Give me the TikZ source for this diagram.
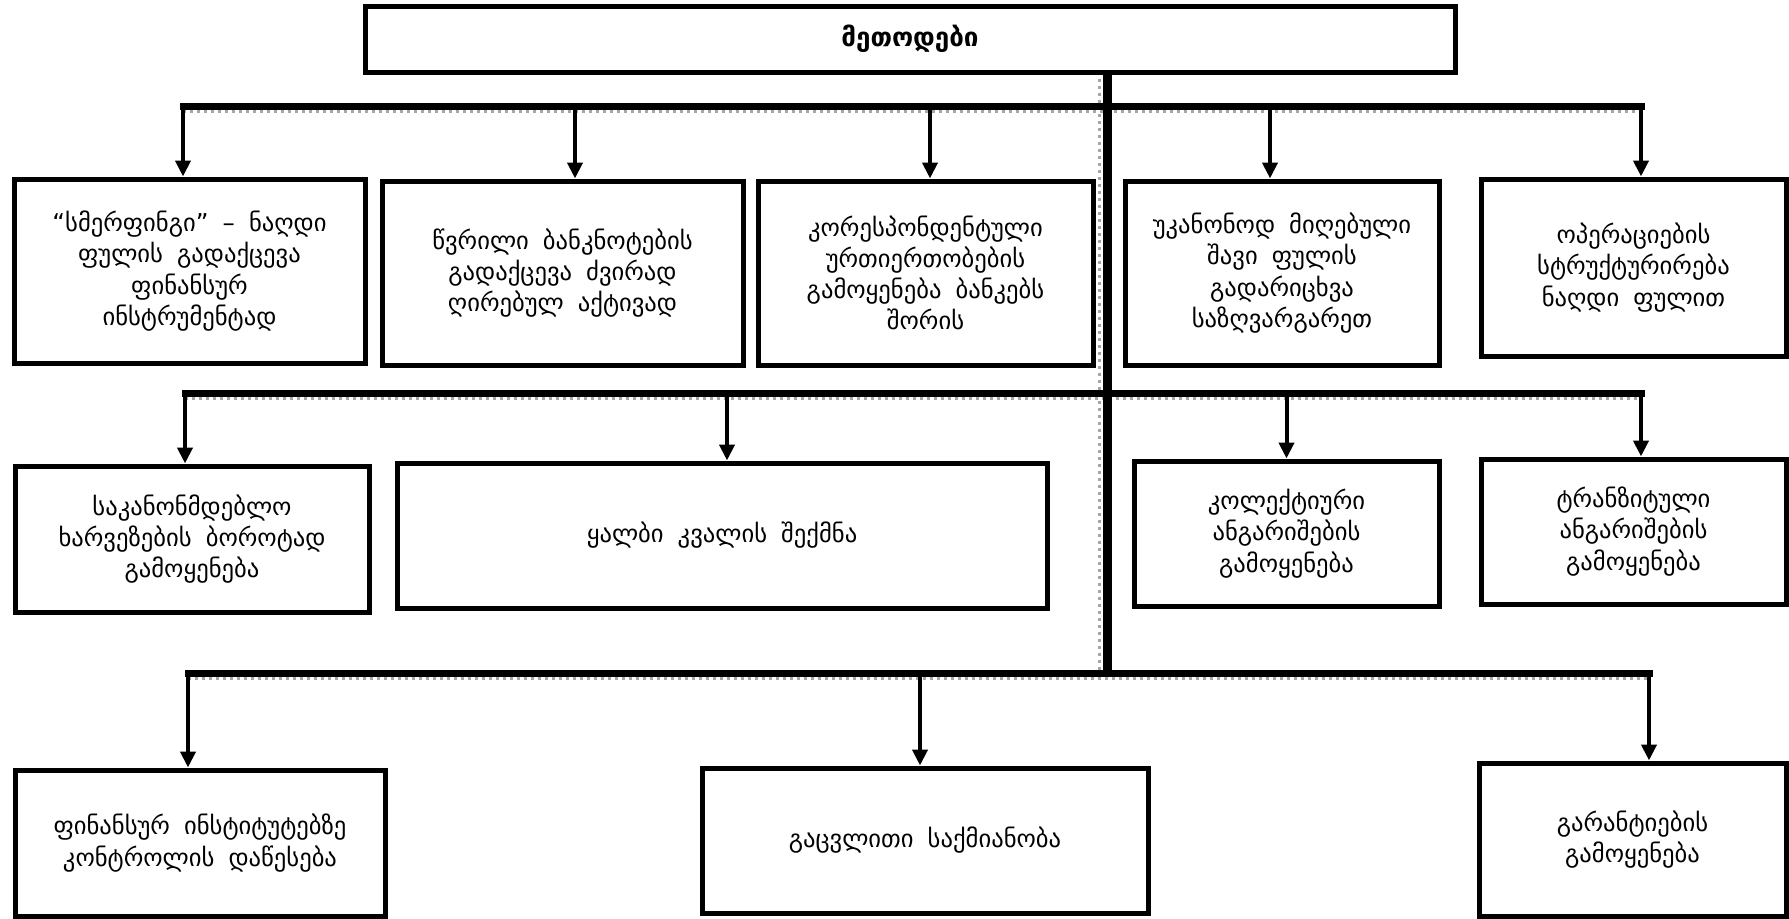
\documentclass[tikz,border=0pt]{standalone}
\usepackage{fontspec}
\setmainfont{DejaVu Sans}[WordSpace=1.8]
\usetikzlibrary{arrows.meta,calc,positioning}

\begin{document}
\begin{tikzpicture}[x=0.5pt,y=-0.5pt]
\tikzset{
    box/.style={
       draw, line width=2.5pt, fill=white,
       align=center, inner sep=0pt,
       font=\fontsize{12.3}{15.6}\selectfont
    },
    busline/.style={line width=3.5pt, line cap=rect},
    busshadow/.style={gray!70, line width=1.5pt, dotted},
    trunkline/.style={line width=4.5pt},
    arrowline/.style={line width=2pt, -{Triangle[length=8pt,width=7.5pt]}}
}
%
\useasboundingbox (0,0) rectangle (1789,918);

\node[box, minimum width=545pt, minimum height=33pt, font=\fontsize{13}{15}\selectfont\bfseries] (metodebi) at (910,39) {მეთოდები};

% first row
\node[box, minimum width=175.5pt, minimum height=92pt] (smurf) at (189.5,271)
   {“სმერფინგი” – ნაღდი\\ფულის გადაქცევა\\ფინანსურ\\ინსტრუმენტად};
\node[box, minimum width=180.5pt, minimum height=92pt] (banknot) at (562.5,273)
   {წვრილი ბანკნოტების\\გადაქცევა ძვირად\\ღირებულ აქტივად};
\node[box, minimum width=167.5pt, minimum height=92pt] (koresp) at (925.5,273)
   {კორესპონდენტული\\ურთიერთობების\\გამოყენება ბანკებს\\შორის};
\node[box, minimum width=157pt, minimum height=92pt] (shavi) at (1282,273)
   {უკანონოდ მიღებული\\შავი ფულის\\გადარიცხვა\\საზღვარგარეთ};
\node[box, minimum width=152.5pt, minimum height=88.5pt] (operac) at (1633.5,267.5)
   {ოპერაციების\\სტრუქტურირება\\ნაღდი ფულით};

% second row
\node[box, minimum width=177pt, minimum height=73pt] (kanon) at (192,539)
   {საკანონმდებლო\\ხარვეზების ბოროტად\\გამოყენება};
\node[box, minimum width=325pt, minimum height=72.5pt] (kvali) at (722,535.5)
   {ყალბი კვალის შექმნა};
\node[box, minimum width=152.5pt, minimum height=72.5pt] (kolekt) at (1286.5,533.5)
   {კოლექტიური\\ანგარიშების\\გამოყენება};
\node[box, minimum width=152.5pt, minimum height=72.5pt] (tranzit) at (1633.5,531.5)
   {ტრანზიტული\\ანგარიშების\\გამოყენება};

% third row
\node[box, minimum width=185pt, minimum height=73pt] (kontrol) at (200,843)
   {ფინანსურ ინსტიტუტებზე\\კონტროლის დაწესება};
\node[box, minimum width=223pt, minimum height=72.5pt] (gacvla) at (925,840.5)
   {გაცვლითი საქმიანობა};
\node[box, minimum width=153.5pt, minimum height=76.5pt] (garant) at (1632.5,839.5)
   {გარანტიების\\გამოყენება};

\coordinate (bus1) at (1107,106);
\coordinate (bus2) at (1107,393);
\coordinate (bus3) at (1107,673);

% where the arrows come down
\foreach \n/\dx in {smurf/-6.5, banknot/12.5, koresp/4.5, shavi/-12, operac/7.5,
                    kanon/-7, kvali/5, kolekt/0, tranzit/7.5,
                    kontrol/-12, gacvla/-5, garant/16.5}
  \coordinate (in-\n) at ($(\n.north)+(\dx,0)$);

% buses and trunk
\draw[busshadow] ($(metodebi.south -| bus1)+(-8,4)$) -- ($(bus3)+(-8,0)$);
\foreach \bus/\from/\to in {bus1/smurf/operac, bus2/kanon/tranzit, bus3/kontrol/garant}{
  \draw[busshadow] ($(in-\from |- \bus)+(0,5.5)$) -- ($(in-\to |- \bus)+(0,5.5)$);
  \draw[busline] (in-\from |- \bus) -- (in-\to |- \bus);
}
\draw[trunkline] (metodebi.south -| bus1) -- (bus3);

% arrows
\foreach \bus/\n in {bus1/smurf, bus1/banknot, bus1/koresp, bus1/shavi, bus1/operac,
                     bus2/kanon, bus2/kvali, bus2/kolekt, bus2/tranzit,
                     bus3/kontrol, bus3/gacvla, bus3/garant}
  \draw[arrowline] (in-\n |- \bus) -- (in-\n);
\end{tikzpicture}
\end{document}
